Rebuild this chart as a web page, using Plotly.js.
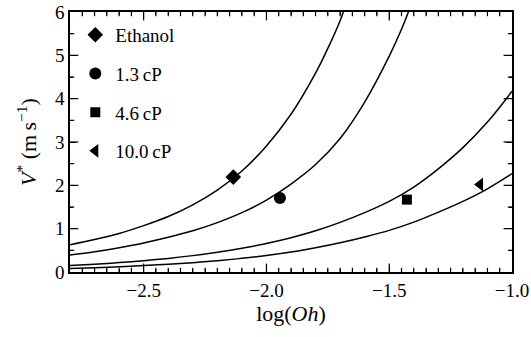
<!DOCTYPE html>
<html>
<head>
<meta charset="utf-8">
<script src="https://cdn.plot.ly/plotly-3.0.1.min.js"></script>
<style>html,body{margin:0;padding:0;background:#fff;}#chart{position:absolute;left:0;top:0;width:531px;height:337px;}</style>
</head>
<body>
<div id="chart"></div>
<script>
// Model curves
const curve1X = [-2.8, -2.7, -2.6, -2.5, -2.4, -2.3, -2.2, -2.1, -2.0, -1.9, -1.8, -1.75, -1.7, -1.687];
const curve1Y = [0.63, 0.75, 0.89, 1.07, 1.28, 1.55, 1.89, 2.33, 2.91, 3.64, 4.59, 5.16, 5.80, 6.00];

const curve2X = [-2.8, -2.7, -2.6, -2.5, -2.4, -2.3, -2.2, -2.1, -2.0, -1.9, -1.8, -1.7, -1.6, -1.5, -1.45, -1.422];
const curve2Y = [0.39, 0.465, 0.56, 0.67, 0.80, 0.95, 1.14, 1.37, 1.66, 2.03, 2.48, 3.08, 3.92, 4.98, 5.60, 6.00];

const curve3X = [-2.8, -2.7, -2.6, -2.5, -2.4, -2.3, -2.2, -2.1, -2.0, -1.9, -1.8, -1.7, -1.6, -1.5, -1.4, -1.3, -1.2, -1.1, -1.0];
const curve3Y = [0.15, 0.18, 0.217, 0.261, 0.314, 0.378, 0.455, 0.547, 0.658, 0.79, 0.95, 1.145, 1.37, 1.63, 1.96, 2.38, 2.87, 3.46, 4.17];

const curve4X = [-2.8, -2.7, -2.6, -2.5, -2.4, -2.3, -2.2, -2.1, -2.0, -1.9, -1.8, -1.7, -1.6, -1.5, -1.4, -1.3, -1.2, -1.1, -1.0];
const curve4Y = [0.08, 0.10, 0.12, 0.15, 0.18, 0.215, 0.26, 0.315, 0.38, 0.46, 0.56, 0.675, 0.81, 0.96, 1.15, 1.38, 1.63, 1.92, 2.27];

// Measured points
const seriesNames = ["Ethanol", "1.3\u2009cP", "4.6\u2009cP", "10.0\u2009cP"];
const pointX = [-2.135, -1.945, -1.428, -1.13];
const pointY = [2.19, 1.71, 1.67, 2.02];
const symbols = ["diamond", "circle", "square", "triangle-left"];
const symbolSizes = [12, 12, 10, 12];

// Axes
const xRange = [-2.8, -1.0];
const yRange = [0, 6];
const xMajorStep = 0.5, xMinorStep = 0.05;
const yMajorStep = 1, yMinorStep = 0.5;

const FONT = "Liberation Serif, Times New Roman, serif";

// Tick positions along each axis (from the axis ranges and steps)
function isMultiple(v, step) { const r = v / step; return Math.abs(r - Math.round(r)) < 1e-6; }
function tickLists(range, minorStep, majorStep) {
  const major = [], minor = [];
  const n = Math.round((range[1] - range[0]) / minorStep);
  for (let k = 1; k < n; k++) {
    const v = +(range[0] + k * minorStep).toFixed(4);
    (isMultiple(v, majorStep) ? major : minor).push(v);
  }
  return {major: major, minor: minor};
}
const xTicks = tickLists(xRange, xMinorStep, xMajorStep);
const yTicks = tickLists(yRange, yMinorStep, yMajorStep);

const traces = [];
// Inside tick marks on all four sides: line markers centred on the frame, clipped to the plot area
function tickTrace(xs, ys, symbol, size) {
  return {
    x: xs, y: ys, type: "scatter", mode: "markers", cliponaxis: true,
    marker: {symbol: symbol, size: size, color: "black", line: {color: "black", width: 1.2}},
    showlegend: false, hoverinfo: "skip"
  };
}
[[xTicks.major, 12], [xTicks.minor, 6]].forEach(function (t) {
  const xs = t[0].concat(t[0]);
  const ys = t[0].map(function () { return yRange[0]; }).concat(t[0].map(function () { return yRange[1]; }));
  traces.push(tickTrace(xs, ys, "line-ns-open", t[1]));
});
[[yTicks.major, 12], [yTicks.minor, 6]].forEach(function (t) {
  const ys = t[0].concat(t[0]);
  const xs = t[0].map(function () { return xRange[0]; }).concat(t[0].map(function () { return xRange[1]; }));
  traces.push(tickTrace(xs, ys, "line-ew-open", t[1]));
});

const curves = [[curve1X, curve1Y], [curve2X, curve2Y], [curve3X, curve3Y], [curve4X, curve4Y]];
curves.forEach(function (c) {
  traces.push({
    x: c[0], y: c[1], type: "scatter", mode: "lines",
    line: {color: "black", width: 1.5, shape: "spline", smoothing: 1},
    showlegend: false, hoverinfo: "skip"
  });
});
seriesNames.forEach(function (name, i) {
  traces.push({
    x: [pointX[i]], y: [pointY[i]], type: "scatter", mode: "markers", name: name,
    legendgroup: "g" + i,
    marker: {symbol: symbols[i], size: symbolSizes[i], color: "black"}
  });
});

const layout = {
  width: 531, height: 337,
  margin: {l: 70, r: 19, t: 12, b: 65},
  paper_bgcolor: "white", plot_bgcolor: "white",
  font: {family: FONT, color: "black"},
  showlegend: true,
  legend: {
    x: 0.012, y: 0.985, xanchor: "left", yanchor: "top",
    bgcolor: "rgba(0,0,0,0)", borderwidth: 0,
    font: {family: FONT, size: 19, color: "black"},
    traceorder: "grouped", tracegroupgap: 11, itemwidth: 30
  },
  xaxis: {
    range: xRange, dtick: xMajorStep, tick0: 0, tickformat: ".1f",
    showline: true, linecolor: "black", linewidth: 1.5, mirror: "ticks",
    ticks: "inside", ticklen: 6, tickwidth: 1, tickcolor: "black",
    showgrid: false, zeroline: false,
    tickfont: {family: FONT, size: 19, color: "black"},
    minor: {dtick: xMinorStep, ticks: "inside", ticklen: 3, tickcolor: "black", tickwidth: 1, showgrid: false},
    title: {text: "log(<i>Oh</i>)", font: {family: FONT, size: 22, color: "black"}, standoff: 6}
  },
  yaxis: {
    range: yRange, dtick: yMajorStep, tick0: 0,
    showline: true, linecolor: "black", linewidth: 1.5, mirror: "ticks",
    ticks: "inside", ticklen: 6, tickwidth: 1, tickcolor: "black",
    showgrid: false, zeroline: false,
    tickfont: {family: FONT, size: 19, color: "black"},
    minor: {dtick: yMinorStep, ticks: "inside", ticklen: 3, tickcolor: "black", tickwidth: 1, showgrid: false},
    title: {text: "<i>V</i><sup>*</sup> (m\u2009s<sup>\u22121</sup>)", font: {family: FONT, size: 22, color: "black"}, standoff: 12}
  }
};

Plotly.newPlot("chart", traces, layout, {displayModeBar: false});
</script>
</body>
</html>
